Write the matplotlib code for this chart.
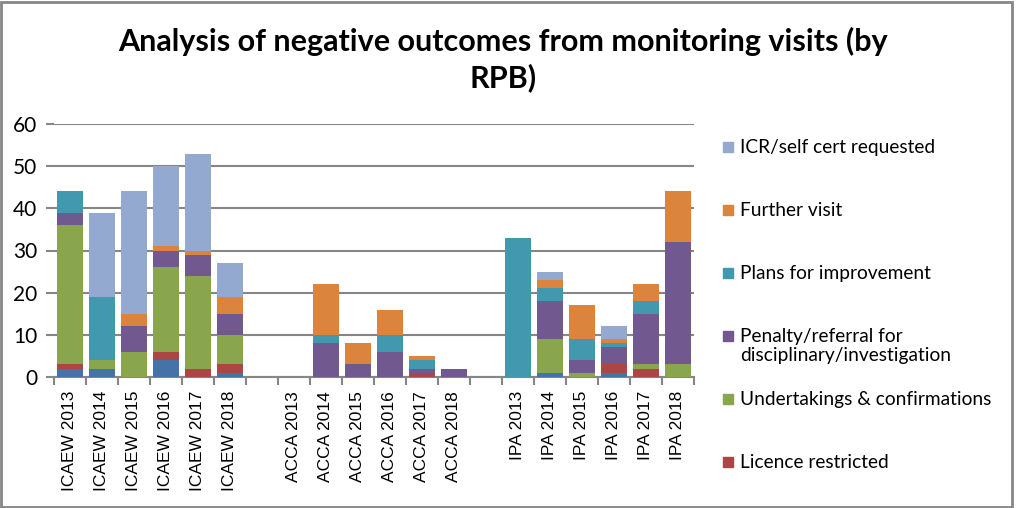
import matplotlib
matplotlib.use('Agg')
import matplotlib.pyplot as plt
from matplotlib.patches import Rectangle
import numpy as np

# categories (blank slots separate the three bodies)
categories = ['ICAEW 2013', 'ICAEW 2014', 'ICAEW 2015', 'ICAEW 2016', 'ICAEW 2017', 'ICAEW 2018', '',
              'ACCA 2013', 'ACCA 2014', 'ACCA 2015', 'ACCA 2016', 'ACCA 2017', 'ACCA 2018', '',
              'IPA 2013', 'IPA 2014', 'IPA 2015', 'IPA 2016', 'IPA 2017', 'IPA 2018']

# series, bottom to top
other = [2, 2, 0, 4, 0, 1, 0, 0, 0, 0, 0, 0, 0, 0, 0, 1, 0, 1, 0, 0]
licence = [1, 0, 0, 2, 2, 2, 0, 0, 0, 0, 0, 1, 0, 0, 0, 0, 0, 2, 2, 0]
undertakings = [33, 2, 6, 20, 22, 7, 0, 0, 0, 0, 0, 0, 0, 0, 0, 8, 1, 0, 1, 3]
penalty = [3, 0, 6, 4, 5, 5, 0, 0, 8, 3, 6, 1, 2, 0, 0, 9, 3, 4, 12, 29]
plans = [5, 15, 0, 0, 0, 0, 0, 0, 2, 0, 4, 2, 0, 0, 33, 3, 5, 1, 3, 0]
further = [0, 0, 3, 1, 1, 4, 0, 0, 12, 5, 6, 1, 0, 0, 0, 2, 8, 1, 4, 12]
icr = [0, 20, 29, 19, 23, 8, 0, 0, 0, 0, 0, 0, 0, 0, 0, 2, 0, 3, 0, 0]

series = [
    (None, other, '#4572A7'),
    ('Licence restricted', licence, '#AA4643'),
    ('Undertakings & confirmations', undertakings, '#89A54E'),
    ('Penalty/referral for\ndisciplinary/investigation', penalty, '#71588F'),
    ('Plans for improvement', plans, '#4198AF'),
    ('Further visit', further, '#DB843D'),
    ('ICR/self cert requested', icr, '#93A9CF'),
]

W, H = 1016, 508
fig = plt.figure(figsize=(W / 100, H / 100), dpi=100)
ax = fig.add_axes([54 / W, 1 - 377 / H, 640 / W, 253 / H])

x = np.arange(len(categories))
bottom = np.zeros(len(categories))
for name, vals, col in series:
    ax.bar(x, vals, bottom=bottom, width=0.84, color=col, zorder=3)
    bottom += np.array(vals)

ax.set_xlim(-0.5, len(categories) - 0.5)
ax.set_ylim(0, 60)
ax.set_yticks(range(0, 61, 10))
ax.yaxis.grid(True, color='#868686', linewidth=1.5, zorder=0)
for s in ['top', 'right', 'left']:
    ax.spines[s].set_visible(False)
ax.spines['bottom'].set_color('#868686')
ax.spines['bottom'].set_linewidth(1.5)
ax.tick_params(axis='y', length=6, width=1.5, color='#868686', labelsize=15, pad=6)
for t in ax.get_yticklabels():
    t.set_fontfamily('Lato')

ax.set_xticks(x)
ax.set_xticklabels(categories, rotation=90, fontsize=12.5, fontfamily='Liberation Sans')
ax.tick_params(axis='x', length=0, pad=10)
ax.set_xticks(np.arange(-0.5, len(categories), 1), minor=True)
ax.tick_params(axis='x', which='minor', length=6, width=1.5, color='#868686')

fig.text(503 / W, 1 - 60 / H, 'Analysis of negative outcomes from monitoring visits (by\nRPB)',
         ha='center', va='center', fontsize=22, fontweight='bold', fontfamily='Lato',
         linespacing=1.3)

# legend, top to bottom
legend_items = [s for s in series if s[0] is not None][::-1]
for i, (name, vals, col) in enumerate(legend_items):
    ytop = 139 + i * 63
    fig.patches.append(Rectangle((723 / W, 1 - (ytop + 13) / H), 10 / W, 10 / H,
                                 transform=fig.transFigure, color=col))
    fig.text(740 / W, 1 - ytop / H, name, ha='left', va='top', fontsize=13.8,
             fontfamily='Lato', linespacing=1.12)

fig.patches.append(Rectangle((1 / W, 1 / H), 1011 / W, 505 / H, transform=fig.transFigure,
                             fill=False, edgecolor='#868686', linewidth=2))

fig.savefig('out.png', dpi=100)
